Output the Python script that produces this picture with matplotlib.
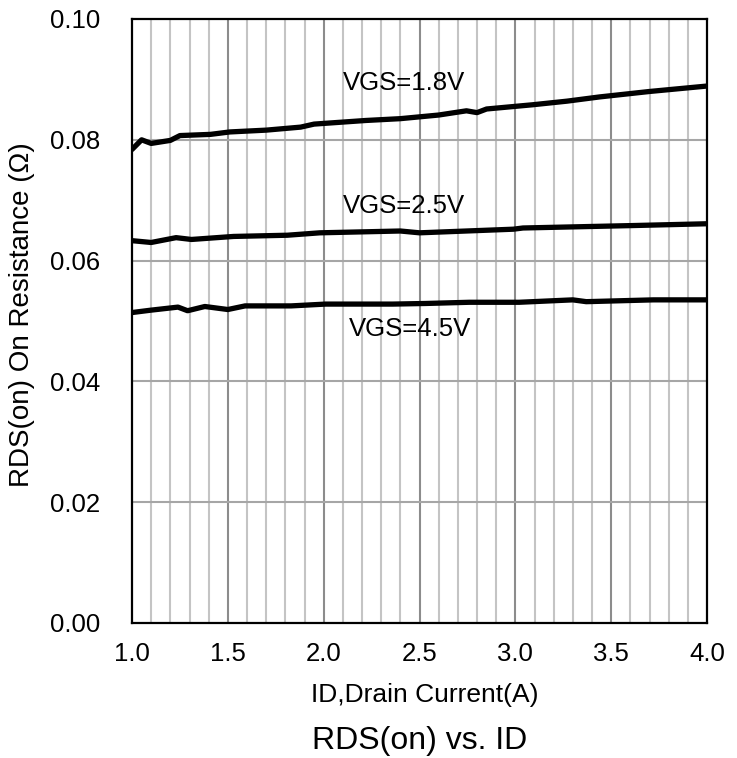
import matplotlib
matplotlib.use("Agg")
import matplotlib.pyplot as plt
import numpy as np

plt.rcParams['font.family'] = ['Liberation Sans', 'DejaVu Sans']

# ID, drain current (A) and RDS(on) (ohm)
id_18 = [1.00, 1.05, 1.10, 1.20, 1.25, 1.41, 1.51, 1.70, 1.88, 1.95, 2.22, 2.40,
         2.60, 2.745, 2.80, 2.85, 3.09, 3.27, 3.44, 3.70, 4.00]
r_18 = [0.0784, 0.0800, 0.0794, 0.0799, 0.0807, 0.0809, 0.0813, 0.0816, 0.0821, 0.0826,
        0.0832, 0.0835, 0.0841, 0.0848, 0.0845, 0.0851, 0.0858, 0.0864, 0.0871, 0.0880, 0.0889]

id_25 = [1.00, 1.10, 1.23, 1.31, 1.53, 1.81, 1.98, 2.40, 2.50, 2.99, 3.04, 3.61, 4.00]
r_25 = [0.0633, 0.0630, 0.0638, 0.0635, 0.0640, 0.0642, 0.0646, 0.0649, 0.0646,
        0.0652, 0.0654, 0.0658, 0.0661]

id_45 = [1.00, 1.10, 1.24, 1.29, 1.38, 1.50, 1.59, 1.83, 2.01, 2.36, 2.53, 2.76,
         3.02, 3.30, 3.37, 3.72, 4.00]
r_45 = [0.0514, 0.0518, 0.0523, 0.0517, 0.0524, 0.0519, 0.0525, 0.0525, 0.0528,
        0.0528, 0.0529, 0.0531, 0.0531, 0.0535, 0.0532, 0.0535, 0.0535]

curves = [(id_18, r_18, "VGS=1.8V", 2.42, 0.0894),
          (id_25, r_25, "VGS=2.5V", 2.42, 0.0690),
          (id_45, r_45, "VGS=4.5V", 2.45, 0.0487)]

fig = plt.figure(figsize=(7.37, 7.58), dpi=100)
ax = fig.add_axes([132 / 737, 1 - 623 / 758, (707 - 132) / 737, (623 - 19) / 758])

# grid: light minor verticals every 0.1, darker every 0.5, horizontals every 0.02
for x in np.arange(1.1, 4.0, 0.1):
    major = abs(x * 2 - round(x * 2)) < 1e-6
    ax.axvline(x, color="#8c8c8c" if major else "#c4c4c4", lw=1.5, zorder=1)
for y in np.arange(0.02, 0.1, 0.02):
    ax.axhline(y, color="#a6a6a6", lw=1.5, zorder=1)

for xs, ys, label, lx, ly in curves:
    ax.plot(xs, ys, color="black", lw=3.8, solid_capstyle="round", zorder=3)
    ax.text(lx, ly, label, ha="center", va="center", fontsize=18.5, zorder=4)

ax.set_xlim(1.0, 4.0)
ax.set_ylim(0, 0.10)
ax.set_xticks(np.arange(1.0, 4.01, 0.5))
ax.set_yticks(np.arange(0, 0.101, 0.02))
ax.set_xticklabels(["%.1f" % v for v in np.arange(1.0, 4.01, 0.5)])
ax.set_yticklabels(["%.2f" % v for v in np.arange(0, 0.101, 0.02)])
ax.tick_params(length=0, labelsize=18.5)
ax.tick_params(axis="x", pad=14)
ax.tick_params(axis="y", pad=23)
for s in ax.spines.values():
    s.set_linewidth(1.6)
    s.set_zorder(5)

ax.set_ylabel("RDS(on) On Resistance (Ω)", fontsize=20)
ax.yaxis.set_label_coords((35 - 132) / 575, 0.51)
fig.text(425 / 737, 1 - 695 / 758, "ID,Drain Current(A)", ha="center", va="center", fontsize=19)
fig.text(420 / 737, 1 - 741 / 758, "RDS(on) vs. ID", ha="center", va="center", fontsize=23)

fig.savefig("out.png", dpi=100)
